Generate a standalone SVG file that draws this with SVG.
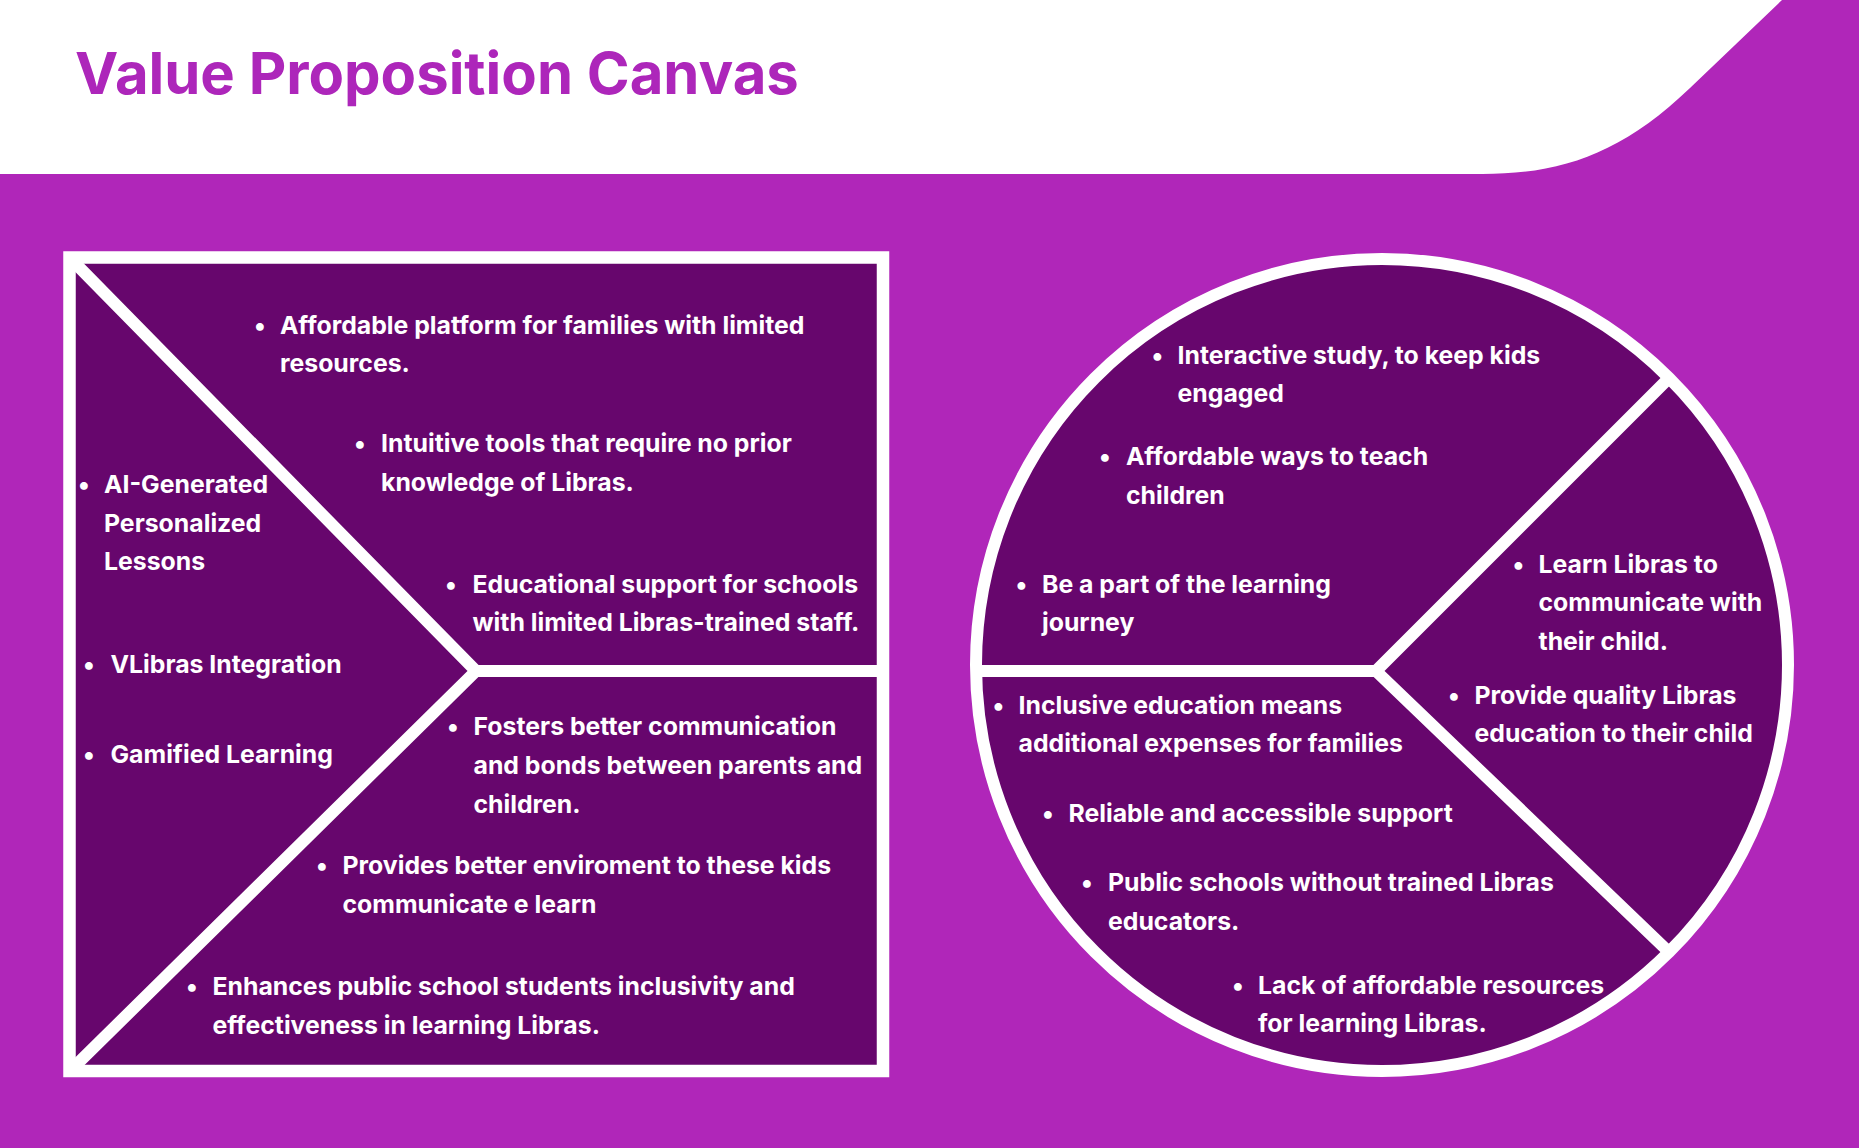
<svg xmlns="http://www.w3.org/2000/svg" width="1859" height="1148" viewBox="0 0 1859 1148">
<style>
.t{font-family:Inter,"Noto Sans","Liberation Sans",sans-serif;font-weight:700;font-size:24.8px;fill:#ffffff}
.b{font-family:Inter,"Noto Sans","Liberation Sans",sans-serif;font-weight:700;font-size:24.8px;fill:#ffffff;text-anchor:middle}
.title{font-family:Inter,"Noto Sans","Liberation Sans",sans-serif;font-weight:700;font-size:58px;fill:#AD26BA}
.div{fill:none;stroke:#ffffff;stroke-width:12;stroke-linejoin:miter;stroke-miterlimit:10}
</style>
<rect x="0" y="0" width="1859" height="1148" fill="#B026B9"/>
<path d="M0 0 H1782 L1690 88 C1620 155 1560 174 1482 174 H0 Z" fill="#ffffff"/>
<text class="title" x="75" y="94">Value Proposition Canvas</text>

<g id="value-map">
<rect x="69.5" y="257.5" width="813.5" height="813.5" fill="#67066D" stroke="#ffffff" stroke-width="12.5"/>
</g>
<g id="customer-profile">
<circle cx="1382" cy="665" r="406" fill="#67066D" stroke="#ffffff" stroke-width="12"/>
</g>

<g id="connectors">
<polyline class="div" points="72,260 476,671 72,1069"/>
<line class="div" x1="476" y1="671" x2="880" y2="671"/>
<line class="div" x1="976" y1="671" x2="1377" y2="671"/>
<polyline class="div" points="1671,376 1376,671 1671,954"/>
</g>

<g id="gain-creators">
<text class="b" x="260" y="334">•</text>
<text class="t" x="280" y="334">Affordable platform for families with limited</text>
<text class="t" x="280" y="372">resources.</text>
<text class="b" x="360" y="452">•</text>
<text class="t" x="381" y="452">Intuitive tools that require no prior</text>
<text class="t" x="381" y="490.5">knowledge of Libras.</text>
<text class="b" x="451" y="592.5">•</text>
<text class="t" x="472.5" y="592.5">Educational support for schools</text>
<text class="t" x="472.5" y="631">with limited Libras-trained staff.</text>
</g>

<g id="products-services">
<text class="b" x="84" y="492.5">•</text>
<text class="t" x="104" y="492.5">AI-Generated</text>
<text class="t" x="104" y="531.5">Personalized</text>
<text class="t" x="104" y="570">Lessons</text>
<text class="b" x="89" y="673">•</text>
<text class="t" x="110.5" y="673">VLibras Integration</text>
<text class="b" x="89" y="762.5">•</text>
<text class="t" x="110.5" y="762.5">Gamified Learning</text>
</g>

<g id="pain-relievers">
<text class="b" x="453" y="735">•</text>
<text class="t" x="473.5" y="735">Fosters better communication</text>
<text class="t" x="473.5" y="774">and bonds between parents and</text>
<text class="t" x="473.5" y="812.5">children.</text>
<text class="b" x="322" y="874">•</text>
<text class="t" x="342.5" y="874">Provides better enviroment to these kids</text>
<text class="t" x="342.5" y="912.5">communicate e learn</text>
<text class="b" x="192" y="995">•</text>
<text class="t" x="212.5" y="995">Enhances public school students inclusivity and</text>
<text class="t" x="212.5" y="1033.5">effectiveness in learning Libras.</text>
</g>

<g id="gains">
<text class="b" x="1157.5" y="364">•</text>
<text class="t" x="1177.5" y="364">Interactive study, to keep kids</text>
<text class="t" x="1177.5" y="402">engaged</text>
<text class="b" x="1105" y="465">•</text>
<text class="t" x="1126" y="465">Affordable ways to teach</text>
<text class="t" x="1126" y="503.5">children</text>
<text class="b" x="1021.5" y="592.5">•</text>
<text class="t" x="1042" y="592.5">Be a part of the learning</text>
<text class="t" x="1042" y="631">journey</text>
</g>

<g id="customer-jobs">
<text class="b" x="1518.5" y="572.5">•</text>
<text class="t" x="1538.5" y="572.5">Learn Libras to</text>
<text class="t" x="1538.5" y="611">communicate with</text>
<text class="t" x="1538.5" y="649.5">their child.</text>
<text class="b" x="1454" y="703.5">•</text>
<text class="t" x="1474.5" y="703.5">Provide quality Libras</text>
<text class="t" x="1474.5" y="742">education to their child</text>
</g>

<g id="pains">
<text class="b" x="998.5" y="713.5">•</text>
<text class="t" x="1018.5" y="713.5">Inclusive education means</text>
<text class="t" x="1018.5" y="752">additional expenses for families</text>
<text class="b" x="1048" y="821.5">•</text>
<text class="t" x="1068.5" y="821.5">Reliable and accessible support</text>
<text class="b" x="1087" y="891">•</text>
<text class="t" x="1108" y="891">Public schools without trained Libras</text>
<text class="t" x="1108" y="929.5">educators.</text>
<text class="b" x="1238" y="993.5">•</text>
<text class="t" x="1258" y="993.5">Lack of affordable resources</text>
<text class="t" x="1258" y="1032">for learning Libras.</text>
</g>
</svg>
